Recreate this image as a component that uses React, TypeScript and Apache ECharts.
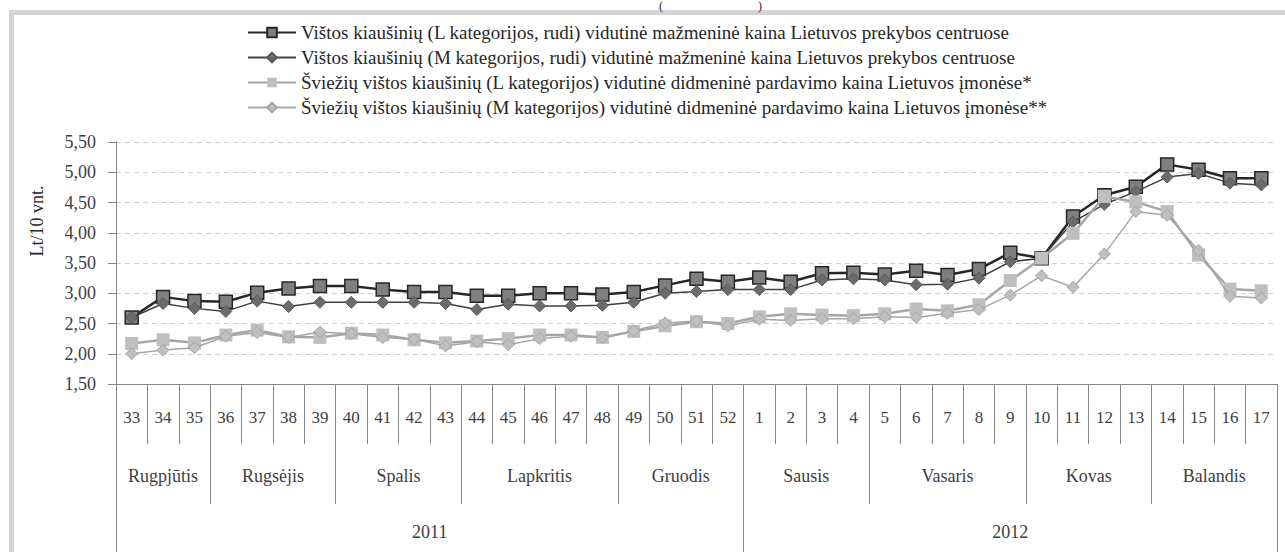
import React, { useEffect, useRef } from "react";
import * as echarts from "echarts";

const weeks = [
  "33", "34", "35", "36", "37", "38", "39", "40", "41", "42", "43", "44", "45", "46", "47", "48", "49", "50", "51", "52",
  "1", "2", "3", "4", "5", "6", "7", "8", "9", "10", "11", "12", "13", "14", "15", "16", "17",
];

const months = ["Rugpjūtis", "Rugsėjis", "Spalis", "Lapkritis", "Gruodis", "Sausis", "Vasaris", "Kovas", "Balandis"];
const monthWeekCounts = [3, 4, 4, 5, 4, 4, 5, 4, 4];

const years = ["2011", "2012"];
const yearWeekCounts = [20, 17];

const seriesNames = [
  "Vištos kiaušinių (L kategorijos, rudi) vidutinė mažmeninė kaina Lietuvos prekybos centruose",
  "Vištos kiaušinių (M kategorijos, rudi) vidutinė mažmeninė kaina Lietuvos prekybos centruose",
  "Šviežių vištos kiaušinių (L kategorijos) vidutinė didmeninė pardavimo kaina Lietuvos įmonėse*",
  "Šviežių vištos kiaušinių (M kategorijos) vidutinė didmeninė pardavimo kaina Lietuvos įmonėse**",
];

const retailL = [
  2.60, 2.94, 2.87, 2.86, 3.01, 3.08, 3.12, 3.12, 3.06, 3.02, 3.02, 2.96, 2.96, 3.00, 3.00, 2.98, 3.02, 3.13, 3.24, 3.19,
  3.26, 3.19, 3.33, 3.34, 3.31, 3.37, 3.30, 3.40, 3.67, 3.58, 4.27, 4.62, 4.76, 5.13, 5.04, 4.90, 4.90,
];
const retailM = [
  2.60, 2.83, 2.75, 2.70, 2.87, 2.78, 2.85, 2.85, 2.85, 2.85, 2.83, 2.73, 2.82, 2.79, 2.79, 2.80, 2.85, 3.00, 3.03, 3.06,
  3.06, 3.06, 3.22, 3.24, 3.22, 3.14, 3.15, 3.25, 3.52, 3.58, 4.18, 4.47, 4.68, 4.92, 4.98, 4.82, 4.79,
];
const wholesaleL = [
  2.17, 2.23, 2.18, 2.31, 2.39, 2.28, 2.27, 2.34, 2.31, 2.23, 2.18, 2.21, 2.25, 2.31, 2.31, 2.27, 2.37, 2.46, 2.53, 2.50,
  2.61, 2.66, 2.64, 2.63, 2.66, 2.74, 2.71, 2.81, 3.21, 3.58, 3.99, 4.60, 4.51, 4.35, 3.63, 3.07, 3.04,
];
const wholesaleM = [
  2.00, 2.06, 2.10, 2.29, 2.35, 2.27, 2.36, 2.33, 2.27, 2.24, 2.13, 2.20, 2.15, 2.25, 2.29, 2.27, 2.38, 2.51, 2.54, 2.46,
  2.57, 2.55, 2.58, 2.58, 2.61, 2.60, 2.67, 2.73, 2.97, 3.29, 3.10, 3.65, 4.35, 4.29, 3.71, 2.95, 2.92,
];

const yMin = 1.5;
const yMax = 5.5;
const yStep = 0.5;
const yAxisTitle = "Lt/10 vnt.";

const FONT = "Liberation Serif, serif";

function spans(counts: number[]) {
  const bounds: number[] = [0];
  const mids: number[] = [];
  let acc = 0;
  counts.forEach((c) => {
    mids.push(acc + c / 2);
    acc += c;
    bounds.push(acc);
  });
  return { bounds, mids };
}

export default function App() {
  const ref = useRef<HTMLDivElement>(null);

  useEffect(() => {
    if (!ref.current) return;
    const chart = echarts.init(ref.current, null, { renderer: "svg" });
    const n = weeks.length;
    const m = spans(monthWeekCounts);
    const y = spans(yearWeekCounts);
    const lookup = (mids: number[], names: string[]) => (v: number) => {
      const i = mids.findIndex((x) => Math.abs(x - v) < 1e-6);
      return i >= 0 ? names[i] : "";
    };

    const axisColor = "#868686";
    const txt = "#404040";

    const option: any = {
      animation: false,
      backgroundColor: "#ffffff",
      textStyle: { fontFamily: FONT },
      legend: {
        orient: "vertical",
        left: 247,
        top: 23,
        padding: 0,
        itemGap: 6,
        itemWidth: 48,
        itemHeight: 12,
        textStyle: { fontFamily: FONT, fontSize: 19, color: "#262626" },
        data: seriesNames,
      },
      grid: { left: 116, right: 8, top: 142, bottom: 168, containLabel: false },
      xAxis: [
        {
          type: "category",
          data: weeks,
          position: "bottom",
          boundaryGap: true,
          axisLine: { show: true, lineStyle: { color: axisColor, width: 1 } },
          axisTick: { show: true, interval: 0, length: 60, lineStyle: { color: axisColor } },
          axisLabel: { interval: 0, margin: 25, fontFamily: FONT, fontSize: 17, color: txt },
          splitLine: { show: false },
        },
        {
          type: "value",
          min: 0,
          max: n,
          position: "bottom",
          axisLine: { show: false },
          splitLine: { show: false },
          axisTick: { show: true, customValues: m.bounds, length: 120, lineStyle: { color: axisColor } },
          axisLabel: {
            customValues: m.mids,
            formatter: lookup(m.mids, months),
            margin: 83,
            fontFamily: FONT,
            fontSize: 18,
            color: txt,
          },
        },
        {
          type: "value",
          min: 0,
          max: n,
          position: "bottom",
          axisLine: { show: false },
          splitLine: { show: false },
          axisTick: { show: true, customValues: y.bounds, length: 170, lineStyle: { color: axisColor } },
          axisLabel: {
            customValues: y.mids,
            formatter: lookup(y.mids, years),
            margin: 139,
            fontFamily: FONT,
            fontSize: 18,
            color: txt,
          },
        },
      ],
      yAxis: {
        type: "value",
        min: yMin,
        max: yMax,
        interval: yStep,
        axisLine: { show: true, lineStyle: { color: axisColor } },
        axisTick: { show: true, length: 8, lineStyle: { color: axisColor } },
        axisLabel: {
          margin: 20,
          formatter: (v: number) => v.toFixed(2).replace(".", ","),
          fontFamily: FONT,
          fontSize: 18,
          color: txt,
        },
        splitLine: { show: true, lineStyle: { color: "#d0d0d0", type: [5, 4], width: 1 } },
      },
      series: [
        {
          name: seriesNames[0],
          type: "line",
          data: retailL,
          symbol: "rect",
          symbolSize: 13,
          lineStyle: { color: "#262626", width: 2.5 },
          itemStyle: { color: "#7f7f7f", borderColor: "#262626", borderWidth: 1.5 },
          z: 5,
        },
        {
          name: seriesNames[1],
          type: "line",
          data: retailM,
          symbol: "diamond",
          symbolSize: 12,
          lineStyle: { color: "#404040", width: 1.5 },
          itemStyle: { color: "#6b6b6b", borderColor: "#595959", borderWidth: 1 },
          z: 6,
        },
        {
          name: seriesNames[2],
          type: "line",
          data: wholesaleL,
          symbol: "rect",
          symbolSize: 13,
          lineStyle: { color: "#a6a6a6", width: 2.5 },
          itemStyle: { color: "#bfbfbf", borderWidth: 0 },
          z: 7,
        },
        {
          name: seriesNames[3],
          type: "line",
          data: wholesaleM,
          symbol: "diamond",
          symbolSize: 12,
          lineStyle: { color: "#a6a6a6", width: 1.5 },
          itemStyle: { color: "#bfbfbf", borderColor: "#a6a6a6", borderWidth: 1 },
          z: 8,
        },
      ],
      graphic: [
        { type: "rect", left: 9, top: 10, shape: { width: 1276, height: 5 }, style: { fill: "#d4d4d4" }, silent: true },
        { type: "rect", left: 9, top: 10, shape: { width: 5, height: 542 }, style: { fill: "#d4d4d4" }, silent: true },
        {
          type: "text",
          x: 661,
          y: 0,
          style: { text: "(", fontFamily: FONT, fontSize: 12, fill: "#262626", align: "center", verticalAlign: "top" },
        },
        {
          type: "text",
          x: 760,
          y: 0,
          style: { text: ")", fontFamily: FONT, fontSize: 12, fill: "#262626", align: "center", verticalAlign: "top" },
        },
        {
          type: "text",
          x: 37,
          y: 221,
          rotation: Math.PI / 2,
          style: {
            text: yAxisTitle,
            fontFamily: FONT,
            fontSize: 18,
            fill: "#262626",
            align: "center",
            verticalAlign: "middle",
          },
        },
      ],
    };

    chart.setOption(option);
    return () => chart.dispose();
  }, []);

  return (
    <div
      ref={ref}
      style={{ position: "fixed", left: 0, top: 0, width: 1285, height: 552, background: "#fff" }}
    />
  );
}
